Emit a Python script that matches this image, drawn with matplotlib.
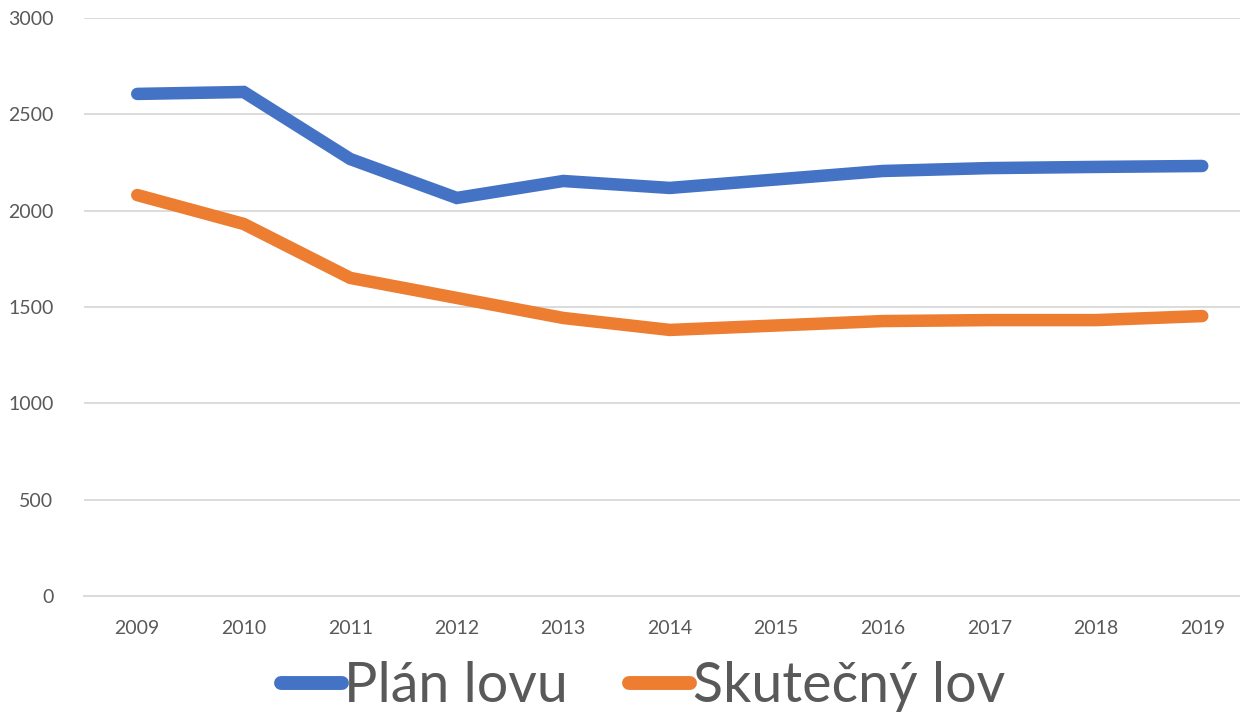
import matplotlib
matplotlib.use("Agg")
import matplotlib.pyplot as plt

years = ["2009", "2010", "2011", "2012", "2013", "2014", "2015", "2016", "2017", "2018", "2019"]
plan_lovu = [2606, 2616, 2268, 2066, 2154, 2118, 2162, 2206, 2221, 2227, 2232]
skutecny_lov = [2081, 1931, 1651, 1547, 1443, 1381, 1404, 1427, 1432, 1432, 1453]
y_ticks = [0, 500, 1000, 1500, 2000, 2500, 3000]

plt.rcParams['font.family'] = ['Lato', 'DejaVu Sans']
W, H = 1240, 717
fig = plt.figure(figsize=(W / 100, H / 100), dpi=100)
ax = fig.add_axes([84 / W, 1 - 596 / H, (W - 84) / W, (596 - 18) / H])

x = list(range(len(years)))
ax.plot(x, plan_lovu, color="#4472C4", lw=9, solid_capstyle="round", solid_joinstyle="miter", label="Plán lovu")
ax.plot(x, skutecny_lov, color="#ED7D31", lw=9, solid_capstyle="round", solid_joinstyle="miter", label="Skutečný lov")

ax.set_xlim(-0.5, -0.5 + (W - 84) / 106.5)
ax.set_ylim(0, 3000)
ax.set_yticks(y_ticks)
ax.set_yticklabels([str(v) for v in y_ticks])
ax.set_xticks(x)
ax.set_xticklabels(years)
ax.grid(axis="y", color="#D9D9D9", lw=1.3)
ax.set_axisbelow(True)
for s in ["top", "right", "left"]:
    ax.spines[s].set_visible(False)
ax.spines["bottom"].set_color("#D9D9D9")
ax.spines["bottom"].set_linewidth(1.3)
ax.tick_params(axis="both", length=0, labelsize=14, colors="#595959")
ax.tick_params(axis="y", pad=22)
ax.tick_params(axis="x", pad=17)

leg = fig.legend(loc="center", bbox_to_anchor=(643 / W, 1 - 687 / H), ncol=2, frameon=False,
                 fontsize=40, handlelength=1.1, handletextpad=0.05, columnspacing=1.1)
for line in leg.get_lines():
    line.set_linewidth(10)
for t in leg.get_texts():
    t.set_color("#595959")

fig.savefig("out.png", dpi=100)
